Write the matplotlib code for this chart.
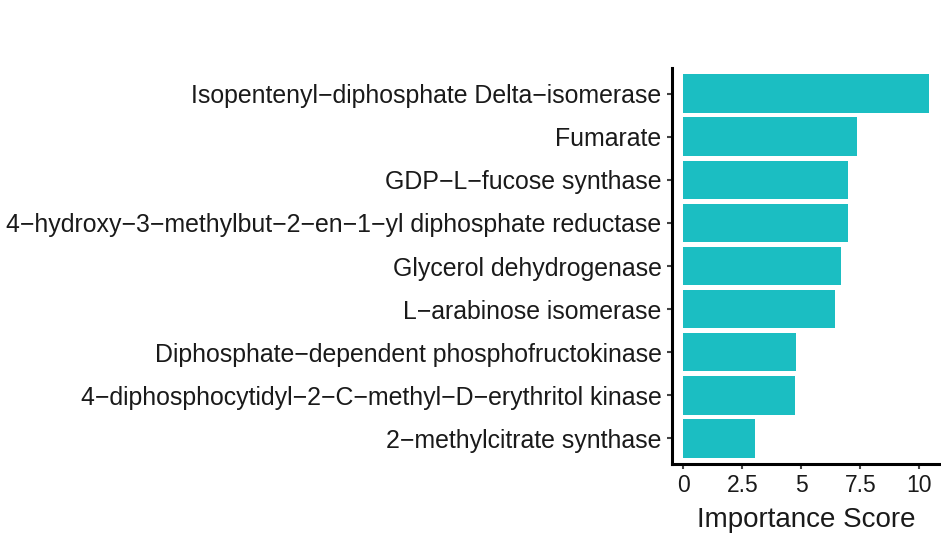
import matplotlib
matplotlib.use("Agg")
import matplotlib.pyplot as plt

M = "\u2212"
features = [
    "Isopentenyl-diphosphate Delta-isomerase",
    "Fumarate",
    "GDP-L-fucose synthase",
    "4-hydroxy-3-methylbut-2-en-1-yl diphosphate reductase",
    "Glycerol dehydrogenase",
    "L-arabinose isomerase",
    "Diphosphate-dependent phosphofructokinase",
    "4-diphosphocytidyl-2-C-methyl-D-erythritol kinase",
    "2-methylcitrate synthase",
]
scores = [10.4, 7.35, 6.96, 6.97, 6.69, 6.41, 4.78, 4.75, 3.05]
xticks = [0, 2.5, 5, 7.5, 10]
xtick_labels = ["0", "2.5", "5", "7.5", "10"]

plt.rcParams['font.family'] = ['Liberation Sans', 'DejaVu Sans']

fig = plt.figure(figsize=(9.41, 5.35), dpi=100)
ax = fig.add_axes([0.714, 0.1327, 0.286, 0.7402])

labels = [f.replace("-", M) for f in features]
ypos = list(range(len(features)))[::-1]
ax.barh(ypos, scores, height=0.9, color='#1BBEC2')

ax.set_ylim(-0.6, len(features) - 0.4)
ax.set_xlim(-0.49, 10.92)
ax.set_yticks(ypos)
ax.set_yticklabels(labels, fontsize=17.9, color='#1a1a1a')
ax.set_xticks(xticks)
ax.set_xticklabels(xtick_labels, fontsize=16.5, color='#1a1a1a')
ax.set_xlabel('Importance Score', fontsize=20, color='#1a1a1a', labelpad=7)

for s in ['top', 'right']:
    ax.spines[s].set_visible(False)
for s in ['left', 'bottom']:
    ax.spines[s].set_linewidth(2.2)
    ax.spines[s].set_color('black')
ax.tick_params(length=3.5, width=1.5, color='#444444')
ax.tick_params(axis='x', pad=4)
ax.tick_params(axis='y', pad=4)

fig.savefig('out.png', dpi=100)
